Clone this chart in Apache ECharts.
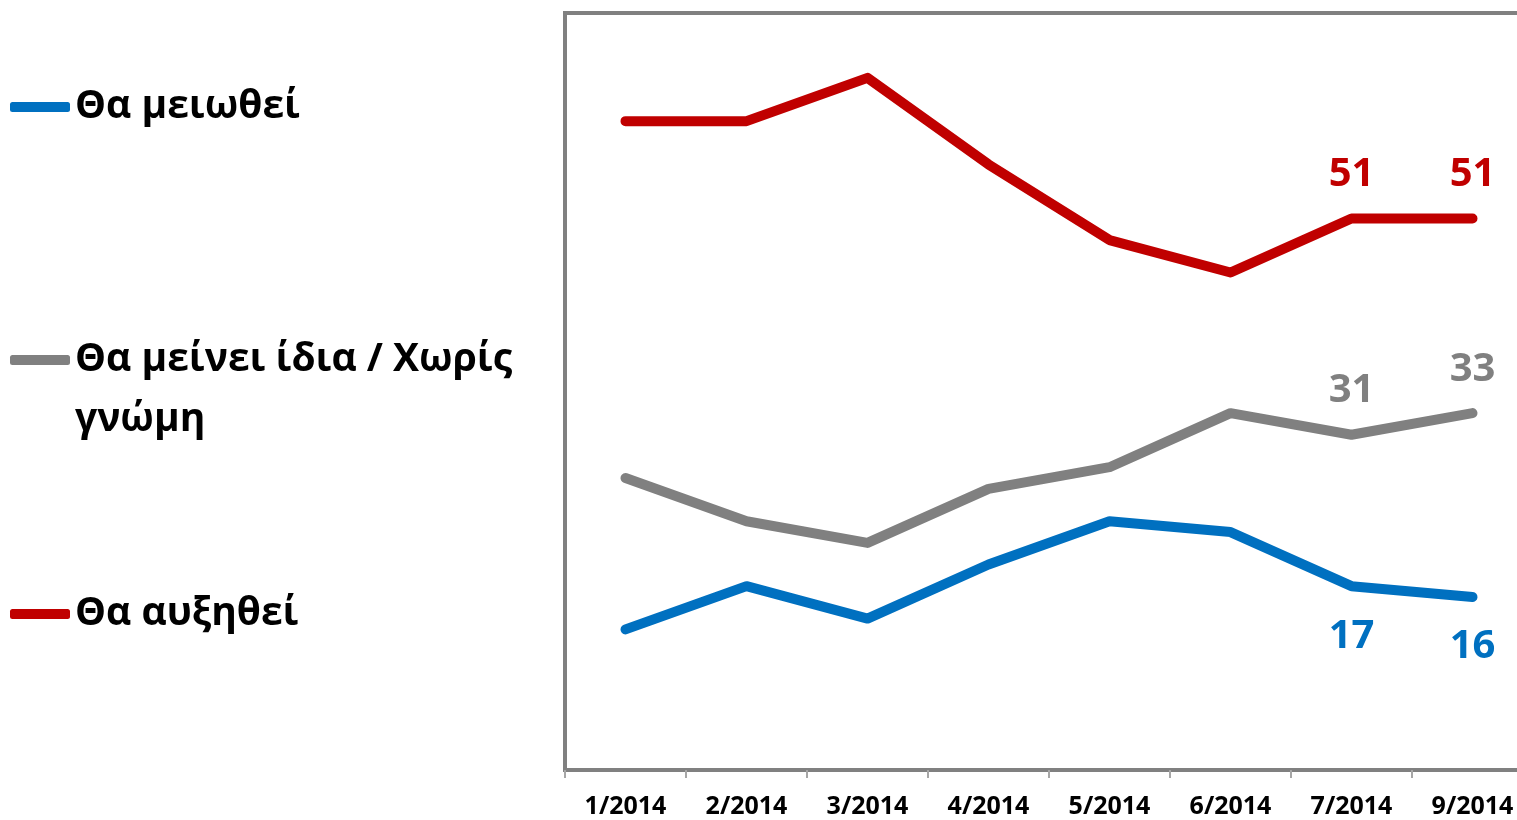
<!DOCTYPE html>
<html>
<head>
<meta charset="utf-8">
<script src="https://cdn.jsdelivr.net/npm/echarts@6/dist/echarts.min.js"></script>
<style>html,body{margin:0;padding:0;background:#fff;}#c{width:1517px;height:820px;}</style>
</head>
<body>
<div id="c"></div>
<script>
const categories = ['1/2014','2/2014','3/2014','4/2014','5/2014','6/2014','7/2014','9/2014'];
const seriesNames = ['Θα μειωθεί', 'Θα μείνει ίδια / Χωρίς γνώμη', 'Θα αυξηθεί'];
const decrease = [13, 17, 14, 19, 23, 22, 17, 16];
const same = [27, 23, 21, 26, 28, 33, 31, 33];
const increase = [60, 60, 64, 56, 49, 46, 51, 51];
const colors = ['#0070C0', '#808080', '#C00000'];
const FONT = '"Open Sans", "Noto Sans", sans-serif';

const chart = echarts.init(document.getElementById('c'));

function mkSeries(name, data, color, pos, dist) {
  return {
    name: name, type: 'line', data: data,
    symbol: 'circle', symbolSize: 0,
    lineStyle: {color: color, width: 10, cap: 'round', join: 'round'},
    itemStyle: {color: color},
    label: {
      show: true, position: pos, distance: dist,
      color: color, fontFamily: FONT, fontWeight: 'bold', fontSize: 40,
      formatter: p => p.dataIndex >= 6 ? String(p.value) : ''
    },
    emphasis: {disabled: true},
    animation: false
  };
}

const legendText = {fontFamily: FONT, fontWeight: 'bold', fontSize: 39, color: '#000', lineHeight: 60};

function mkLegend(name, top) {
  return {
    data: [name], left: 5, top: top, orient: 'vertical',
    icon: 'roundRect', itemWidth: 60, itemHeight: 10, itemGap: 0,
    textStyle: legendText,
    selectedMode: false
  };
}

const grayLegend = mkLegend(seriesNames[1], 265);
grayLegend.formatter = () => '{a| }\n{a|Θα μείνει ίδια / Χωρίς}\n{a|γνώμη}';
grayLegend.textStyle = Object.assign({}, legendText, {rich: {a: {fontFamily: FONT, fontWeight: 'bold', fontSize: 39, color: '#000', lineHeight: 60}}});

chart.setOption({
  animation: false,
  backgroundColor: '#fff',
  grid: {left: 565, top: 13, width: 968, height: 757, show: true, borderColor: '#808080', borderWidth: 4, outerBoundsMode: 'none', containLabel: false},
  legend: [
    mkLegend(seriesNames[0], 72),
    grayLegend,
    mkLegend(seriesNames[2], 579)
  ],
  xAxis: {
    type: 'category', data: categories, boundaryGap: true,
    axisLine: {lineStyle: {color: '#808080', width: 4}},
    axisTick: {show: true, length: 8, lineStyle: {color: '#a6a6a6', width: 2}},
    axisLabel: {color: '#000', fontFamily: FONT, fontWeight: 'bold', fontSize: 25, margin: 24},
    splitLine: {show: false}
  },
  yAxis: {
    type: 'value', min: 0, max: 70, show: false, splitLine: {show: false}
  },
  series: [
    mkSeries(seriesNames[0], decrease, colors[0], 'bottom', 30),
    mkSeries(seriesNames[1], same, colors[1], 'top', 24),
    mkSeries(seriesNames[2], increase, colors[2], 'top', 24)
  ]
});
</script>
</body>
</html>
